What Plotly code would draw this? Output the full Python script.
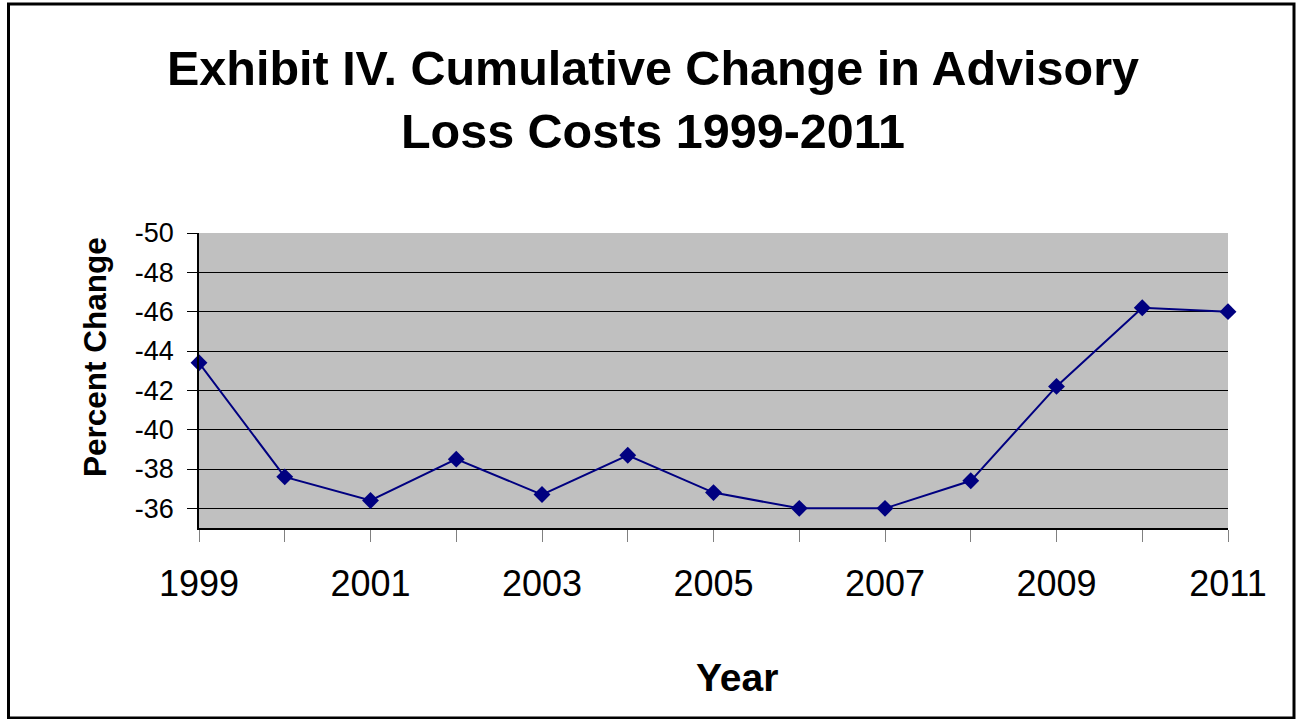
import plotly.graph_objects as go

years = [1999, 2000, 2001, 2002, 2003, 2004, 2005, 2006, 2007, 2008, 2009, 2010, 2011]
pct_change = [-43.4, -37.6, -36.4, -38.5, -36.7, -38.7, -36.8, -36.0, -36.0, -37.4, -42.2, -46.2, -46.0]
x_tick_vals = years
x_tick_text = [str(y) if (y - 1999) % 2 == 0 else "" for y in years]
y_tick_vals = [-50, -48, -46, -44, -42, -40, -38, -36]
y_tick_text = ["-50", "-48", "-46", "-44", "-42", "-40", "-38", "-36"]

W, H = 1297, 719
L, R, T, B = 199, 1228, 233, 528
pw, ph = R - L, B - T

def px(x):
    return (x - L) / pw

def py(y):
    return (B - y) / ph

fig = go.Figure()
fig.add_trace(go.Scatter(
    x=years, y=pct_change, mode="lines+markers",
    line=dict(color="#000080", width=2),
    marker=dict(symbol="diamond", size=13, color="#000080"),
    showlegend=False, cliponaxis=False,
))

fig.update_layout(
    width=W, height=H,
    margin=dict(l=L, r=W - R, t=T, b=H - B),
    paper_bgcolor="white", plot_bgcolor="#C0C0C0",
    font=dict(family="Liberation Sans, Arial", color="black"),
    title=dict(
        text="Exhibit IV. Cumulative Change in Advisory<br>Loss Costs 1999-2011",
        font=dict(size=48.5, family="Liberation Sans, Arial", color="black", weight="bold"),
        x=653 / W, xanchor="center", y=1 - 85 / H, yanchor="middle",
        xref="container", yref="container",
    ),
    xaxis=dict(
        range=[1999, 2011], tickvals=x_tick_vals, ticktext=x_tick_text,
        ticks="outside", ticklen=12, tickcolor="#808080", tickwidth=1,
        showline=True, linecolor="black", linewidth=1.5,
        showgrid=False, zeroline=False,
        tickfont=dict(size=36, color="black"), ticklabelstandoff=11,
    ),
    yaxis=dict(
        range=[-35, -50], tickvals=y_tick_vals, ticktext=y_tick_text,
        ticks="outside", ticklen=10, tickcolor="black", tickwidth=1,
        showline=True, linecolor="black", linewidth=1.5,
        showgrid=True, gridcolor="black", gridwidth=1, zeroline=False,
        tickfont=dict(size=27, color="black"), ticklabelstandoff=8,
    ),
    annotations=[
        dict(text="<b>Percent Change</b>", textangle=-90, x=px(95), y=py(357),
             xref="paper", yref="paper", showarrow=False,
             font=dict(size=31.5, color="black"), xanchor="center", yanchor="middle"),
        dict(text="<b>Year</b>", x=px(737), y=py(677),
             xref="paper", yref="paper", showarrow=False,
             font=dict(size=39, color="black"), xanchor="center", yanchor="middle"),
    ],
    shapes=[
        dict(type="rect", xref="paper", yref="paper",
             x0=px(8.5), x1=px(1294), y0=py(718), y1=py(4),
             line=dict(color="black", width=3), layer="above"),
    ],
)

fig.write_html("out.html", config={"displayModeBar": False},
               post_script="document.body.style.margin='0';")
